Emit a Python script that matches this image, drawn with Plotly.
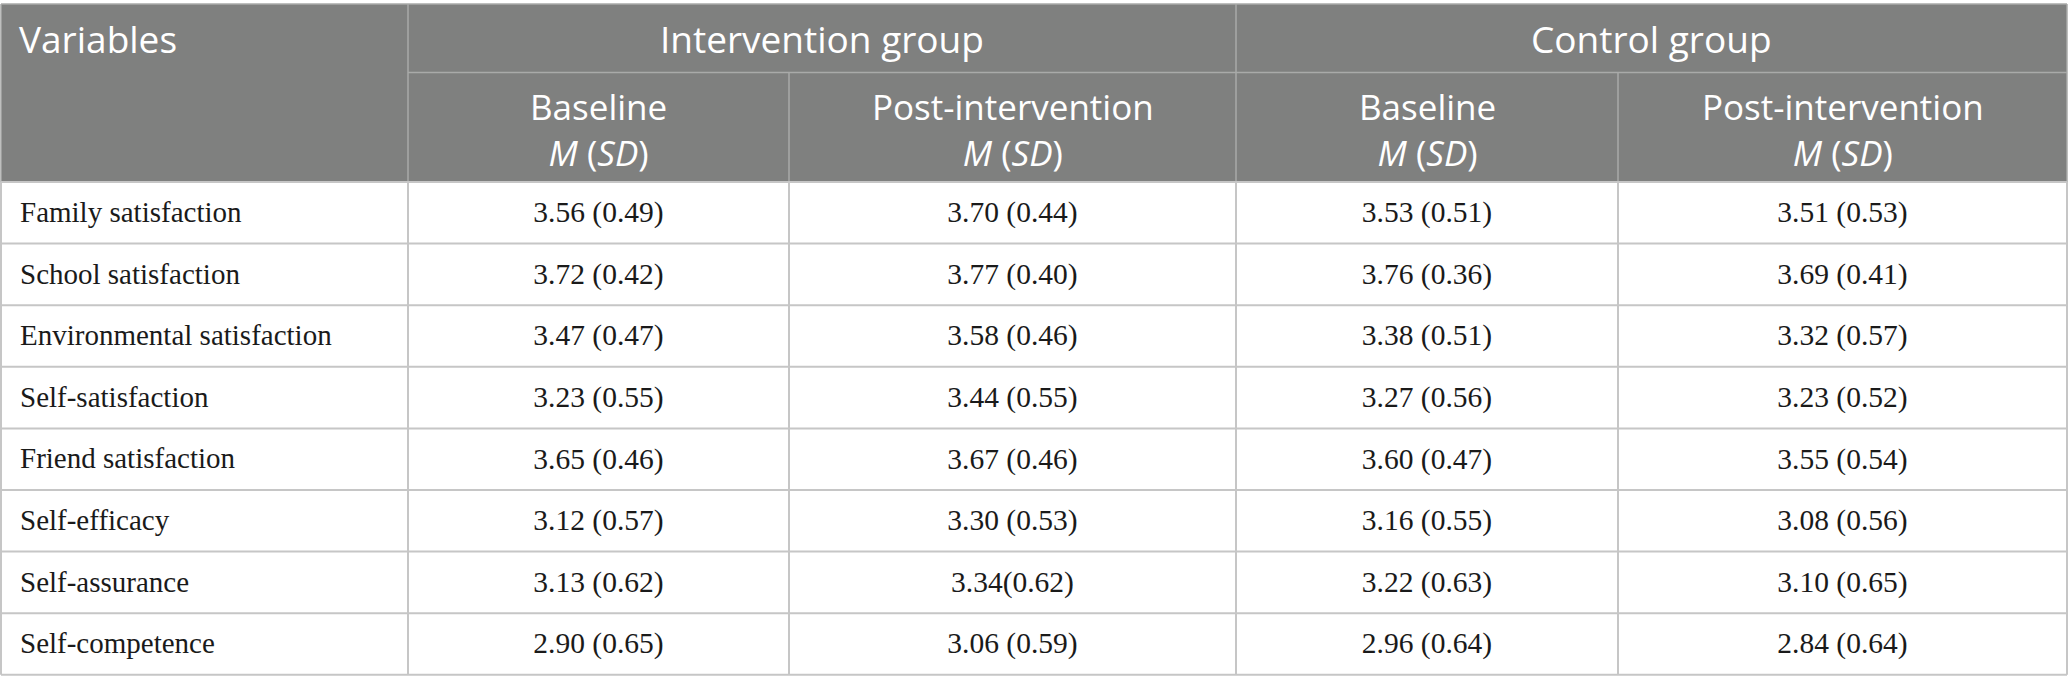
import plotly.graph_objects as go

variables = [
    "Family satisfaction",
    "School satisfaction",
    "Environmental satisfaction",
    "Self-satisfaction",
    "Friend satisfaction",
    "Self-efficacy",
    "Self-assurance",
    "Self-competence",
]
int_baseline = ["3.56 (0.49)", "3.72 (0.42)", "3.47 (0.47)", "3.23 (0.55)",
                "3.65 (0.46)", "3.12 (0.57)", "3.13 (0.62)", "2.90 (0.65)"]
int_post = ["3.70 (0.44)", "3.77 (0.40)", "3.58 (0.46)", "3.44 (0.55)",
            "3.67 (0.46)", "3.30 (0.53)", "3.34(0.62)", "3.06 (0.59)"]
ctl_baseline = ["3.53 (0.51)", "3.76 (0.36)", "3.38 (0.51)", "3.27 (0.56)",
                "3.60 (0.47)", "3.16 (0.55)", "3.22 (0.63)", "2.96 (0.64)"]
ctl_post = ["3.51 (0.53)", "3.69 (0.41)", "3.32 (0.57)", "3.23 (0.52)",
            "3.55 (0.54)", "3.08 (0.56)", "3.10 (0.65)", "2.84 (0.64)"]

groups = ["Intervention group", "Control group"]
subheads = ["Baseline", "Post-intervention"]
first_head = "Variables"

# table geometry (pixels)
W, H = 2068, 692
edges = [1, 408, 789, 1236, 1618, 2067]
top, mid, head_bot = 4, 72.5, 182
row_h = 61.6

head_bg = "#7f807f"
head_line = "#a9aaa9"
grid = "#c6c6c6"
body_col = "#1a1a1a"
sans = "Open Sans"
serif = "Liberation Serif"
head_size = 37

fig = go.Figure()

# header background and lines
fig.add_shape(type="rect", x0=edges[0], x1=edges[-1], y0=top, y1=head_bot,
              fillcolor=head_bg, line=dict(width=0), layer="below")
fig.add_shape(type="line", x0=edges[0], x1=edges[-1], y0=top, y1=top,
              line=dict(color=head_line, width=1.5))
fig.add_shape(type="line", x0=edges[1], x1=edges[-1], y0=mid, y1=mid,
              line=dict(color=head_line, width=1.5))
for x in [edges[1], edges[3]]:
    fig.add_shape(type="line", x0=x, x1=x, y0=top, y1=head_bot,
                  line=dict(color=head_line, width=1.5))
for x in [edges[2], edges[4]]:
    fig.add_shape(type="line", x0=x, x1=x, y0=mid, y1=head_bot,
                  line=dict(color=head_line, width=1.5))
for x in [edges[0], edges[-1]]:
    fig.add_shape(type="line", x0=x, x1=x, y0=top, y1=head_bot,
                  line=dict(color=head_line, width=1.5))

# body grid
n = len(variables)
bottom = head_bot + n * row_h
for i in range(n + 1):
    y = head_bot + i * row_h
    fig.add_shape(type="line", x0=edges[0], x1=edges[-1], y0=y, y1=y,
                  line=dict(color=grid, width=2))
for x in edges:
    fig.add_shape(type="line", x0=x, x1=x, y0=head_bot, y1=bottom,
                  line=dict(color=grid, width=2))

# header text
fig.add_annotation(x=edges[0] + 16, y=(top + mid) / 2, text=first_head,
                   xanchor="left", yanchor="middle", showarrow=False,
                   font=dict(family=sans, size=head_size, color="white"))
for g, name in enumerate(groups):
    xc = (edges[1 + 2 * g] + edges[3 + 2 * g]) / 2
    fig.add_annotation(x=xc, y=(top + mid) / 2, text=name,
                       xanchor="center", yanchor="middle", showarrow=False,
                       font=dict(family=sans, size=head_size, color="white"))
    for s, sub in enumerate(subheads):
        xs = (edges[1 + 2 * g + s] + edges[2 + 2 * g + s]) / 2
        fig.add_annotation(x=xs, y=(mid + head_bot) / 2 + 2,
                           text=sub + "<br><i>M</i> (<i>SD</i>)",
                           xanchor="center", yanchor="middle", showarrow=False,
                           font=dict(family=sans, size=head_size - 2, color="white"))

# body text
ys = [head_bot + (i + 0.5) * row_h + 2 for i in range(n)]
fig.add_trace(go.Scatter(x=[edges[0] + 19] * n, y=ys, text=variables,
                         mode="text", textposition="middle right",
                         textfont=dict(family=serif, size=29, color=body_col),
                         hoverinfo="skip"))
for c, col in enumerate([int_baseline, int_post, ctl_baseline, ctl_post]):
    xc = (edges[c + 1] + edges[c + 2]) / 2
    fig.add_trace(go.Scatter(x=[xc] * n, y=ys, text=col,
                             mode="text", textposition="middle center",
                             textfont=dict(family=serif, size=29.5, color=body_col),
                             hoverinfo="skip"))

fig.update_xaxes(range=[0, W], visible=False, fixedrange=True)
fig.update_yaxes(range=[H, 0], visible=False, fixedrange=True)
fig.update_layout(
    width=W, height=H,
    margin=dict(l=0, r=0, t=0, b=0),
    paper_bgcolor="white",
    plot_bgcolor="white",
    showlegend=False,
)

# drop the default page margin so the figure sits at the window corner
fig.write_html("out.html", config={"displayModeBar": False},
               post_script="document.body.style.margin = '0';")
